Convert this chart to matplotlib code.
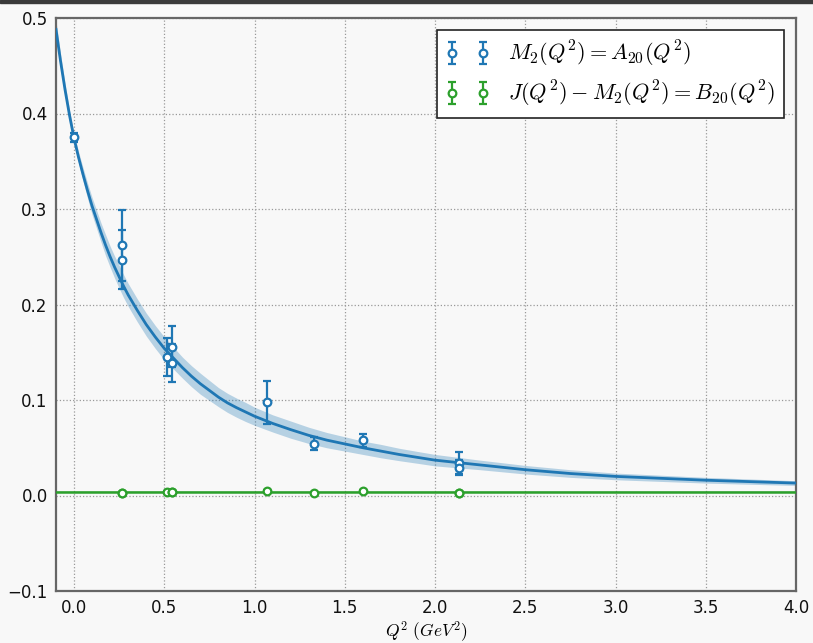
import matplotlib
matplotlib.use("Agg")
import matplotlib.pyplot as plt
from matplotlib.patches import Rectangle

plt.rcParams['mathtext.fontset'] = 'cm'

# fitted curve (Q^2, M2, half width of band)
fit_q2 = [-0.1, -0.075, -0.05, -0.025, 0.0, 0.025, 0.05, 0.075, 0.1, 0.125, 0.15, 0.175,
          0.2, 0.225, 0.25, 0.275, 0.3, 0.35, 0.4, 0.45, 0.5, 0.55, 0.6, 0.65, 0.7,
          0.75, 0.8, 0.85, 0.9, 0.95, 1.0, 1.1, 1.2, 1.3, 1.4, 1.5, 1.6, 1.7, 1.8,
          1.9, 2.0, 2.25, 2.5, 2.75, 3.0, 3.5, 4.0]
fit_m2 = [0.488, 0.455, 0.425, 0.398, 0.374, 0.354, 0.336, 0.319, 0.303, 0.289, 0.275, 0.262,
          0.250, 0.239, 0.229, 0.219, 0.210, 0.194, 0.179, 0.166, 0.154, 0.144, 0.134, 0.125, 0.117,
          0.110, 0.103, 0.097, 0.092, 0.0875, 0.083, 0.0755, 0.069, 0.063, 0.058, 0.054, 0.050, 0.0465, 0.043,
          0.040, 0.037, 0.032, 0.027, 0.023, 0.020, 0.016, 0.013]
fit_err = [0.009, 0.008, 0.007, 0.006, 0.005, 0.006, 0.007, 0.008, 0.009, 0.0095, 0.010, 0.011,
           0.011, 0.0115, 0.012, 0.012, 0.012, 0.012, 0.012, 0.012, 0.012, 0.0115, 0.011, 0.011, 0.011,
           0.0105, 0.010, 0.010, 0.010, 0.010, 0.0095, 0.009, 0.009, 0.0085, 0.008, 0.0075, 0.007, 0.007, 0.0065,
           0.0062, 0.006, 0.005, 0.0045, 0.004, 0.0035, 0.003, 0.0025]

# B20 fit is flat
b20_fit = 0.0035
b20_fit_err = 0.0008

# lattice points
m2_q2 = [0.0, 0.266, 0.266, 0.515, 0.54, 0.54, 1.069, 1.329, 1.60, 2.134, 2.134]
m2_val = [0.375, 0.262, 0.247, 0.145, 0.156, 0.139, 0.0976, 0.054, 0.058, 0.0344, 0.029]
m2_err = [0.005, 0.037, 0.031, 0.020, 0.021, 0.020, 0.0224, 0.0068, 0.0068, 0.0115, 0.008]

b20_q2 = [0.266, 0.266, 0.515, 0.54, 0.54, 1.069, 1.329, 1.60, 2.134, 2.134]
b20_val = [0.003, 0.0028, 0.0035, 0.0032, 0.0036, 0.0045, 0.0025, 0.0045, 0.0028, 0.0026]
b20_err = [0.001, 0.001, 0.001, 0.001, 0.001, 0.001, 0.0008, 0.0008, 0.001, 0.001]

xticks = [0.0, 0.5, 1.0, 1.5, 2.0, 2.5, 3.0, 3.5, 4.0]
yticks = [-0.1, 0.0, 0.1, 0.2, 0.3, 0.4, 0.5]

blue = '#1f77b4'
green = '#2ca02c'
bg = '#f8f8f8'

fig = plt.figure(figsize=(8.13, 6.43), dpi=100, facecolor=bg)
ax = fig.add_axes([56/813, 52/643, 740/813, 573/643])
ax.set_facecolor(bg)

# dark strip at the very top of the screenshot
fig.add_artist(Rectangle((0, 1 - 3/643), 1, 3/643, transform=fig.transFigure,
                         color='#3a3a3a', zorder=10))

lo = [m - e for m, e in zip(fit_m2, fit_err)]
hi = [m + e for m, e in zip(fit_m2, fit_err)]
ax.fill_between(fit_q2, lo, hi, color=blue, alpha=0.3, lw=0, zorder=2)
ax.plot(fit_q2, fit_m2, color=blue, lw=2, zorder=3)

ax.fill_between([-0.1, 4.0], [b20_fit - b20_fit_err]*2, [b20_fit + b20_fit_err]*2,
                color=green, alpha=0.3, lw=0, zorder=2)
ax.plot([-0.1, 4.0], [b20_fit, b20_fit], color=green, lw=1.8, zorder=3)

ax.errorbar(m2_q2, m2_val, yerr=m2_err, fmt='o', color=blue, mfc='white', mec=blue,
            mew=1.6, ms=5.5, elinewidth=1.6, capsize=3, capthick=1.6, zorder=4,
            label=r'$M_2(Q^2) = A_{20}(Q^2)$')
ax.errorbar(b20_q2, b20_val, yerr=b20_err, fmt='o', color=green, mfc='white', mec=green,
            mew=1.6, ms=5.5, elinewidth=1.6, capsize=3, capthick=1.6, zorder=4,
            label=r'$J(Q^2) - M_2(Q^2) = B_{20}(Q^2)$')

ax.set_xlim(-0.1, 4.0)
ax.set_ylim(-0.1, 0.5)
ax.set_xticks(xticks)
ax.set_yticks(yticks)
ax.set_xticklabels(['%.1f' % t for t in xticks])
ax.set_yticklabels(['\u2212%.1f' % -t if t < 0 else '%.1f' % t for t in yticks])
ax.tick_params(length=0, labelsize=12, pad=6, labelcolor='#111111')
ax.grid(True, color='#999999', linestyle=':', linewidth=0.9)
for sp in ax.spines.values():
    sp.set_color('#666666')
    sp.set_linewidth(1.6)

ax.set_xlabel(r'$Q^2\ (GeV^2)$', fontsize=12.5, labelpad=1)

leg = ax.legend(loc='upper right', numpoints=2, fontsize=16, fancybox=False,
                framealpha=1, edgecolor='#222222', borderaxespad=0.55,
                handlelength=2.0, handletextpad=0.8, labelspacing=0.45)
leg.get_frame().set_linewidth(1.2)

fig.savefig('out.png', dpi=100, facecolor=bg)
